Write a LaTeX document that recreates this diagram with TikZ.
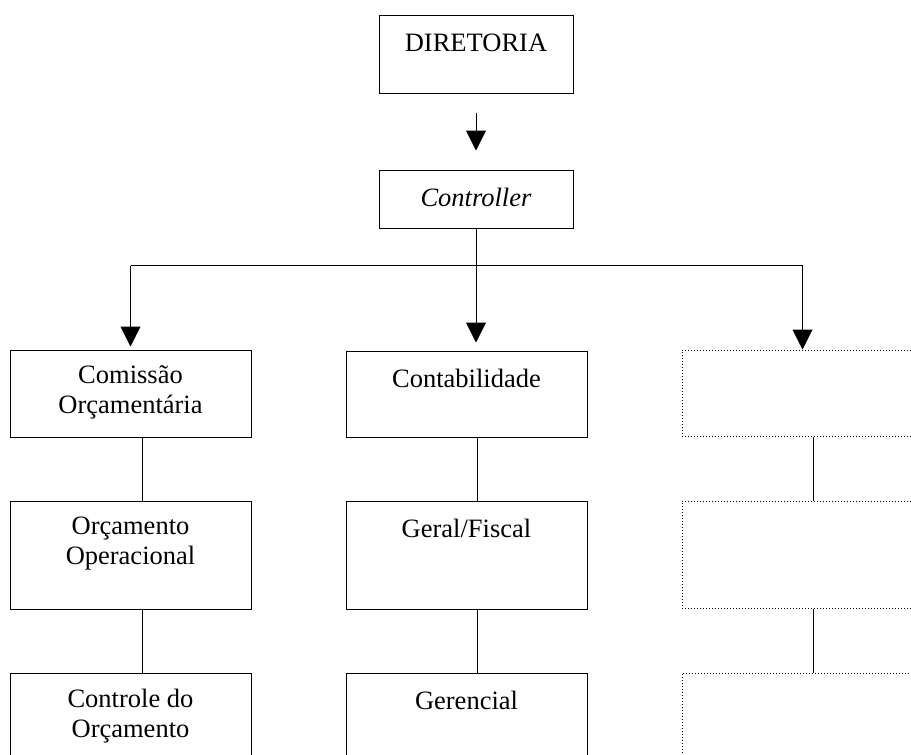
\documentclass[tikz,border=0pt]{standalone}
\usepackage{fontspec}
\setmainfont{Liberation Serif}
\usetikzlibrary{arrows.meta,positioning}
\tikzstyle{box} = [draw, line width=1pt, inner sep=0pt, minimum width=241pt]
\tikzstyle{dotbox} = [box, dash pattern=on 1pt off 2pt]
\tikzstyle{line} = [draw, line width=1pt]
\tikzstyle{arrow} = [line, -{Triangle[width=20pt,length=20pt]}]
\tikzstyle{txt} = [anchor=north, inner sep=0pt, align=center, yshift=-16pt, font=\fontsize{26.5}{30}\selectfont, execute at begin node=\strut]

\begin{document}
\begin{tikzpicture}[x=1pt, y=-1pt]
		\useasboundingbox (0,0) rectangle (911,755);
		\clip (0,0) rectangle (911,755);
		
		\node[box, minimum width=194pt, minimum height=78pt, label={[txt]north:DIRETORIA}] (dir) at (476,54) {}; % top box
		\node[box, minimum width=194pt, minimum height=58pt, label={[txt]north:\textit{Controller}}] (ctrl) at (476,199) {}; % controller
		
		\node[box, minimum height=87pt, label={[txt]north:Comissão\\Orçamentária}] (com) at (130.5,393.5) {}; % left column
		\node[box, minimum height=108pt, label={[txt]north:Orçamento\\Operacional}] (orc) at (130.5,555) {};
		\node[box, minimum height=108pt, label={[txt]north:Controle do\\Orçamento}] (ctl) at (130.5,727) {};
		
		\node[box, minimum height=86pt, label={[txt]north:Contabilidade}] (cont) at (466.5,394) {}; % middle column
		\node[box, minimum height=108pt, label={[txt]north:Geral/Fiscal}] (ger) at (466.5,555) {};
		\node[box, minimum height=108pt, label={[txt]north:Gerencial}] (gcl) at (466.5,727) {};
		
		\node[dotbox, minimum height=86pt] (r1) at (802.5,393) {}; % right column, empty
		\node[dotbox, minimum height=107pt] (r2) at (802.5,554.5) {};
		\node[dotbox, minimum height=108pt] (r3) at (802.5,727) {};
		
		\draw[arrow, shorten <=19pt, shorten >=19pt] (dir.south) -- (ctrl.north); % diretoria to controller
		\draw[line] (ctrl.south) -- ++(0,37) coordinate (J); % down to the bar
		\draw[line] (com.north |- J) -- (r1.north |- J); % horizontal bar
		
		\draw[arrow, shorten >=3pt] (com.north |- J) -- (com.north); % left arrow
		\draw[arrow, shorten >=8pt] (J) -- (J |- cont.north); % middle arrow
		\draw[arrow] (r1.north |- J) -- (r1.north); % right arrow
		
		\draw[line] ([xshift=11.5pt]com.south) -- ([xshift=11.5pt]orc.north); % left links
		\draw[line] ([xshift=11.5pt]orc.south) -- ([xshift=11.5pt]ctl.north);
		\draw[line] ([xshift=10.5pt]cont.south) -- ([xshift=10.5pt]ger.north); % middle links
		\draw[line] ([xshift=10.5pt]ger.south) -- ([xshift=10.5pt]gcl.north);
		\draw[line] ([xshift=10.5pt]r1.south) -- ([xshift=10.5pt]r2.north); % right links
		\draw[line] ([xshift=10.5pt]r2.south) -- ([xshift=10.5pt]r3.north);
		
\end{tikzpicture}
\end{document}
